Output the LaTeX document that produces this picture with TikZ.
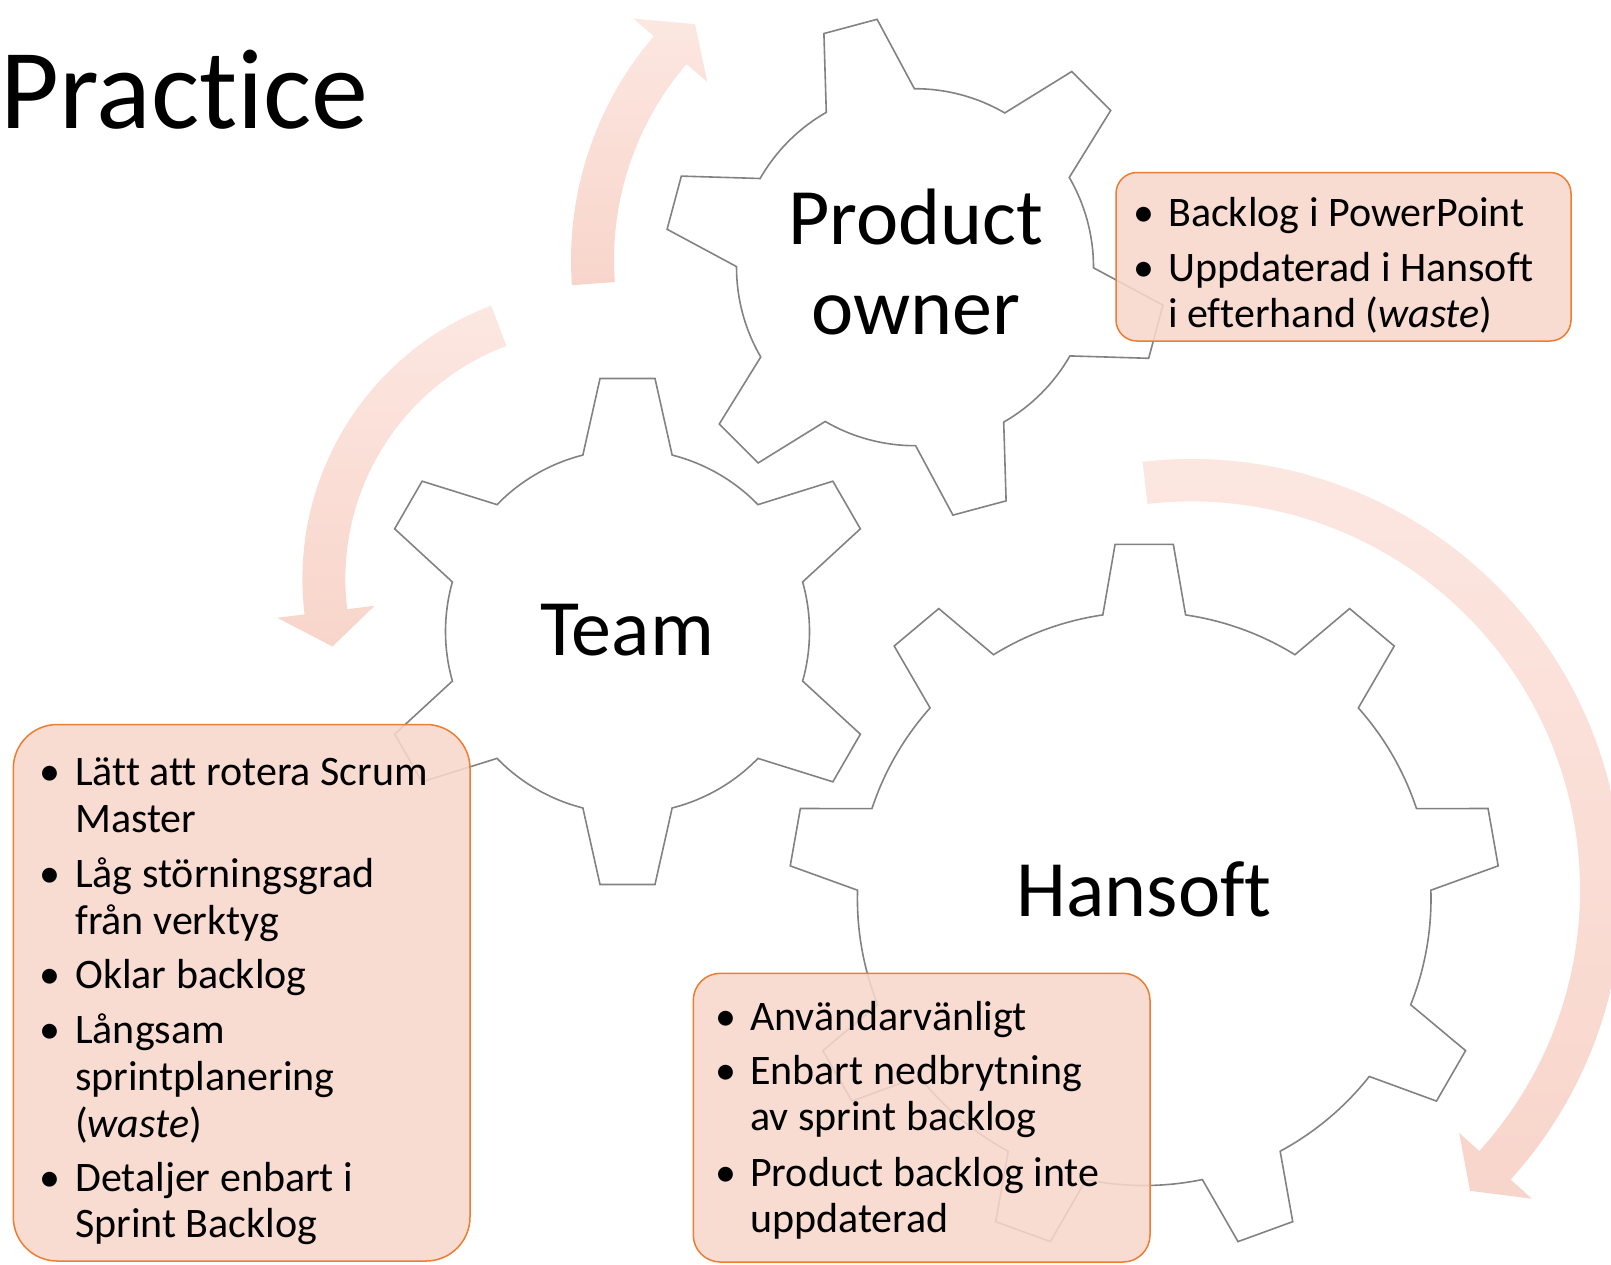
\documentclass[tikz,border=0pt]{standalone}
\usepackage{fontspec}
\setmainfont{Carlito}[Ligatures=NoCommon]
\definecolor{geargray}{RGB}{130,130,130}
\definecolor{boxfill}{RGB}{247,215,204}
\definecolor{boxline}{RGB}{237,125,49}
\definecolor{arrtop}{RGB}{252,231,225}
\definecolor{arrbot}{RGB}{248,213,203}
\tikzset{
  gearline/.style={draw=geargray, line width=1.6pt},
  notebox/.style={draw=boxline, line width=1.5pt, fill=boxfill, fill opacity=0.88},
  cyclearrow/.style={top color=arrtop, bottom color=arrbot, draw=none},
  geartext/.style={font=\fontsize{80}{88}\selectfont, anchor=base, inner sep=0pt},
  bultext/.style={font=\fontsize{42}{46.7}\selectfont, anchor=base west, inner sep=0pt},
  bulletmark/.style={font=\fontsize{42}{46.7}\selectfont, anchor=base, inner sep=0pt},
  titletext/.style={font=\fontsize{114}{120}\selectfont, anchor=base west, inner sep=0pt}
}
% #1 cx, #2 cy (image), #3 teeth, #4 first tooth angle, #5 base radius, #6 tip radius, #7 base half angle, #8 tip half angle
\newcommand\mygear[8]{%
  \begin{scope}[shift={(#1,-#2)}]
    \pgfmathsetmacro\gstep{360/#3}
    \draw[gearline] ({#4-\gstep+#7}:#5)
      \foreach \k in {1,...,#3}{
        arc[start angle={#4+(\k-2)*\gstep+#7}, end angle={#4+(\k-1)*\gstep-#7}, radius=#5]
        -- ({#4+(\k-1)*\gstep-#8}:#6) -- ({#4+(\k-1)*\gstep+#8}:#6)
        -- ({#4+(\k-1)*\gstep+#7}:#5)
      } -- cycle;
  \end{scope}}
\begin{document}
\begin{tikzpicture}[x=1pt,y=1pt]
\useasboundingbox (0,0) rectangle (1611,-1264);
\clip (0,0) rectangle (1611,-1264);

% circular arrows
\begin{scope}[shift={(915,-260)}]
  \shade[cyclearrow] (184.2:344) arc[start angle=184.2, end angle=139.4, radius=344]
    -- (139.4:371) -- (133:322.5) -- (139.4:273.5) -- (139.4:301)
    arc[start angle=139.4, end angle=184.2, radius=301] -- cycle;
\end{scope}
\begin{scope}[shift={(594.4,-578.8)}]
  \shade[cyclearrow] (110.7:292) arc[start angle=110.7, end angle=187, radius=292]
    -- (187:319.5) -- (194.5:270.5) -- (187:221.5) -- (187:249)
    arc[start angle=187, end angle=110.7, radius=249] -- cycle;
\end{scope}
\begin{scope}[shift={(1191.4,-890)}]
  \shade[cyclearrow] (96.5:431) arc[start angle=96.5, end angle=-42.2, radius=431]
    -- (-42.2:459.6) -- (-47.2:410) -- (-42.2:361.5) -- (-42.2:388.6)
    arc[start angle=-42.2, end angle=96.5, radius=388.6] -- cycle;
\end{scope}

% gears
\mygear{915}{267.2}{6}{105}{178.5}{250.8}{14.8}{6.3}
\mygear{627.5}{631.5}{6}{90}{182}{254.5}{14.2}{6.2}
\mygear{1144.2}{898.7}{9}{90}{286.8}{355.5}{8.3}{4.7}

% note boxes
\draw[notebox, rounded corners=21pt] (1116,-172.5) rectangle (1571,-341);
\draw[notebox, rounded corners=44pt] (13.3,-724.5) rectangle (470,-1261);
\draw[notebox, rounded corners=27pt] (693.3,-973.3) rectangle (1150,-1262);

% title
\node[titletext] (title) at (0,-128.3) {Practice};

% gear labels
\node[geartext] (po1) at (915.5,-244.3) {Product};
\node[geartext] (po2) at (916,-334.3) {owner};
\node[geartext] (team) at (627,-655) {Team};
\node[geartext] (hans) at (1144,-916) {Hansoft};

% product owner notes
\node[bulletmark] (pb1) at (1144,-226) {•};
\node[bultext] (pt1) at (1168,-226) {Backlog i PowerPoint};
\node[bulletmark] (pb2) at (1144,-281) {•};
\node[bultext] (pt2) at (1168,-281) {Uppdaterad i Hansoft};
\node[bultext] (pt3) at (1168,-327.5) {i efterhand (\textit{waste})};

% team notes
\node[bulletmark] (tb1) at (50.3,-785.5) {•};
\node[bultext] (tt1) at (75,-785.5) {Lätt att rotera Scrum};
\node[bultext] (tt2) at (75,-832.5) {Master};
\node[bulletmark] (tb2) at (50.3,-887) {•};
\node[bultext] (tt3) at (75,-887) {Låg störningsgrad};
\node[bultext] (tt4) at (75,-934) {från verktyg};
\node[bulletmark] (tb3) at (50.3,-988.5) {•};
\node[bultext] (tt5) at (75,-988.5) {Oklar backlog};
\node[bulletmark] (tb4) at (50.3,-1043) {•};
\node[bultext] (tt6) at (75,-1043) {Långsam};
\node[bultext] (tt7) at (75,-1090) {sprintplanering};
\node[bultext] (tt8) at (75,-1137) {(\textit{waste})};
\node[bulletmark] (tb5) at (50.3,-1191.5) {•};
\node[bultext] (tt9) at (75,-1191.5) {Detaljer enbart i};
\node[bultext] (tt10) at (75,-1237.5) {Sprint Backlog};

% hansoft notes
\node[bulletmark] (hb1) at (725.5,-1030.5) {•};
\node[bultext] (ht1) at (750,-1030.5) {Användarvänligt};
\node[bulletmark] (hb2) at (725.5,-1084) {•};
\node[bultext] (ht2) at (750,-1084) {Enbart nedbrytning};
\node[bultext] (ht3) at (750,-1130.7) {av sprint backlog};
\node[bulletmark] (hb3) at (725.5,-1186.5) {•};
\node[bultext] (ht4) at (750,-1186.5) {Product backlog inte};
\node[bultext] (ht5) at (750,-1232.5) {uppdaterad};
\end{tikzpicture}
\end{document}
